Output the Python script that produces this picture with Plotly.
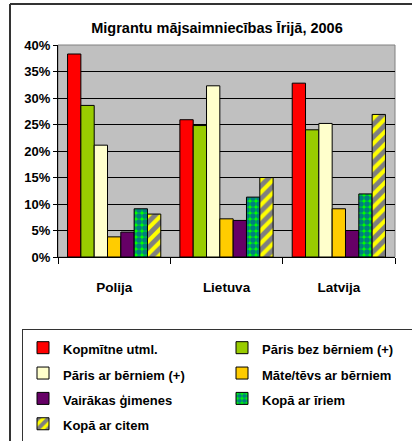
import plotly.graph_objects as go

categories = ["Polija", "Lietuva", "Latvija"]
series_names = [
    "Kopmītne utml.",
    "Pāris bez bērniem (+)",
    "Pāris ar bērniem (+)",
    "Māte/tēvs ar bērniem",
    "Vairākas ģimenes",
    "Kopā ar īriem",
    "Kopā ar citem",
]
kopmitne = [38.3, 25.9, 32.8]
paris_bez = [28.6, 24.8, 24.0]
paris_ar = [21.1, 32.3, 25.2]
mate_tevs = [3.8, 7.2, 9.1]
vairakas = [4.7, 6.9, 5.0]
ar_iriem = [9.1, 11.3, 11.9]
ar_citem = [8.1, 15.0, 26.9]
y_ticks = [0, 5, 10, 15, 20, 25, 30, 35, 40]
y_tick_labels = ["0%", "5%", "10%", "15%", "20%", "25%", "30%", "35%", "40%"]

values = [kopmitne, paris_bez, paris_ar, mate_tevs, vairakas, ar_iriem, ar_citem]
colors = ["#FF0000", "#99CC00", "#FFFFCC", "#FFCC00", "#660066", "#00FF00", "#FFFF00"]
patterns = [None, None, None, None, None,
            dict(shape=".", fgcolor="#0000FF", bgcolor="#00FF00", size=6, solidity=0.7),
            dict(shape="/", fgcolor="#0000FF", bgcolor="#FFFF00", size=9, solidity=0.55)]

FONT = "Liberation Sans, Arial, sans-serif"

fig = go.Figure()
for name, vals, col, pat in zip(series_names, values, colors, patterns):
    marker = dict(color=col, line=dict(color="#000000", width=1))
    if pat:
        marker["pattern"] = pat
    fig.add_trace(go.Bar(
        name="<span style='font-size:13px'><b>" + name + "</b></span>",
        x=categories, y=vals, marker=marker))

W, H = 412, 441
L, R, T, B = 58, 17, 45, 184
pw, ph = W - L - R, H - T - B

def px_x(x):
    return (x - L) / pw

def px_y(y):
    return (H - B - y) / ph

fig.update_layout(
    width=W, height=H,
    margin=dict(l=L, r=R, t=T, b=B, autoexpand=False),
    paper_bgcolor="white",
    plot_bgcolor="#C0C0C0",
    barmode="group",
    bargap=0.17,
    bargroupgap=0,
    font=dict(family=FONT, color="#000000"),
    title=dict(text="<b>Migrantu mājsaimniecības Īrijā, 2006</b>",
               x=217 / W, xanchor="center", y=1 - 28 / H, yanchor="middle",
               font=dict(size=14.5, family=FONT)),
    legend=dict(orientation="h", x=px_x(22), xanchor="left", y=px_y(329), yanchor="top",
                entrywidth=154, entrywidthmode="pixels",
                bordercolor="#333333", borderwidth=1, bgcolor="white",
                font=dict(size=17.2, family=FONT), traceorder="normal"),
    showlegend=True,
)
fig.update_yaxes(range=[0, 40], tickmode="array", tickvals=y_ticks, ticktext=y_tick_labels,
                 showgrid=True, gridcolor="#000000", gridwidth=1,
                 showline=True, linecolor="#000000", linewidth=1,
                 ticks="outside", ticklen=4, tickcolor="#000000",
                 tickfont=dict(size=13, family=FONT, weight="bold"),
                 zeroline=False)
fig.update_xaxes(showline=True, linecolor="#000000", linewidth=1,
                 ticks="outside", ticklen=6, tickcolor="#000000", tickson="boundaries",
                 ticklabelstandoff=18,
                 tickfont=dict(size=13.5, family=FONT, weight="bold"))

# outer chart frame (top & left edges)
fig.add_shape(type="line", xref="paper", yref="paper",
              x0=px_x(10), x1=px_x(420), y0=px_y(4), y1=px_y(4),
              line=dict(color="#333333", width=2))
fig.add_shape(type="line", xref="paper", yref="paper",
              x0=px_x(10), x1=px_x(10), y0=px_y(4), y1=px_y(445),
              line=dict(color="#333333", width=2))
# plot area light border
fig.add_shape(type="rect", xref="paper", yref="paper", x0=0, x1=1, y0=0, y1=1,
              line=dict(color="#808080", width=1), layer="below")

fig.write_html("out.html", config={"displayModeBar": False},
               post_script="document.body.style.margin='0px';")
